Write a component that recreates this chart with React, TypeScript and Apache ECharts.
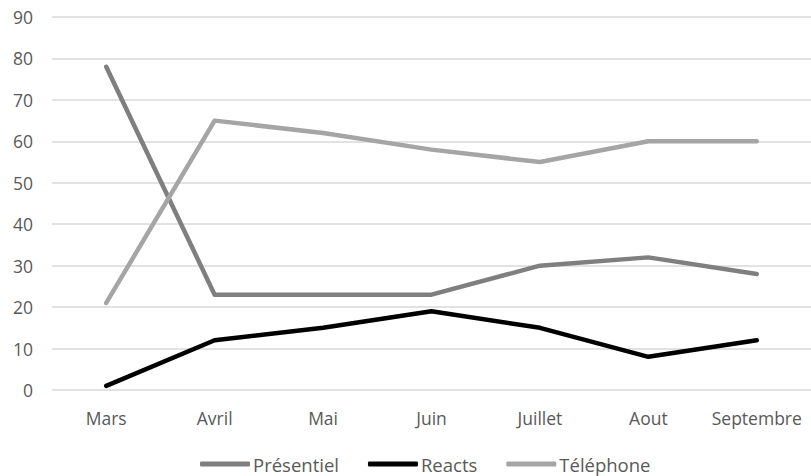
import React, { useEffect, useRef } from "react";
import * as echarts from "echarts";

const months = ["Mars", "Avril", "Mai", "Juin", "Juillet", "Aout", "Septembre"];
const presentiel = [78, 23, 23, 23, 30, 32, 28];
const reacts = [1, 12, 15, 19, 15, 8, 12];
const telephone = [21, 65, 62, 58, 55, 60, 60];
const yTicks = { min: 0, max: 90, interval: 10 };

const FONT = "'Open Sans', 'Noto Sans', sans-serif";
const TEXT = "#595959";
const FS = 17.5;

export default function App() {
  const ref = useRef<HTMLDivElement>(null);

  useEffect(() => {
    if (!ref.current) return;
    const chart = echarts.init(ref.current, undefined, { renderer: "svg" });
    const line = (name: string, data: number[], color: string) => ({
      name,
      type: "line",
      data,
      showSymbol: false,
      symbol: "none",
      lineStyle: { color, width: 4.5, cap: "round", join: "round" },
      itemStyle: { color },
    });
    chart.setOption({
      animation: false,
      backgroundColor: "#ffffff",
      textStyle: { fontFamily: FONT },
      grid: { left: 52, top: 17, width: 768, height: 373, containLabel: false },
      xAxis: {
        type: "category",
        data: months,
        boundaryGap: true,
        axisLine: { show: false },
        axisTick: { show: false },
        axisLabel: {
          color: TEXT,
          fontSize: FS,
          fontFamily: FONT,
          margin: 19,
          interval: 0,
          hideOverlap: false,
        },
      },
      yAxis: {
        type: "value",
        min: yTicks.min,
        max: yTicks.max,
        interval: yTicks.interval,
        axisLine: { show: false },
        axisTick: { show: false },
        axisLabel: { color: TEXT, fontSize: FS, fontFamily: FONT, margin: 19 },
        splitLine: { lineStyle: { color: "#d9d9d9", width: 1.5 } },
      },
      legend: {
        top: 453,
        left: 200,
        padding: 0,
        icon: "roundRect",
        itemWidth: 50,
        itemHeight: 5,
        itemGap: 29,
        textStyle: {
          color: TEXT,
          fontSize: 18.5,
          fontFamily: FONT,
          lineHeight: 22,
          padding: [0, 0, 0, -2],
        },
        data: ["Présentiel", "Reacts", "Téléphone"],
      },
      series: [
        line("Présentiel", presentiel, "#7f7f7f"),
        line("Reacts", reacts, "#000000"),
        line("Téléphone", telephone, "#a5a5a5"),
      ],
    });
    return () => chart.dispose();
  }, []);

  return <div ref={ref} style={{ width: 811, height: 476, position: "absolute", left: 0, top: 0 }} />;
}
